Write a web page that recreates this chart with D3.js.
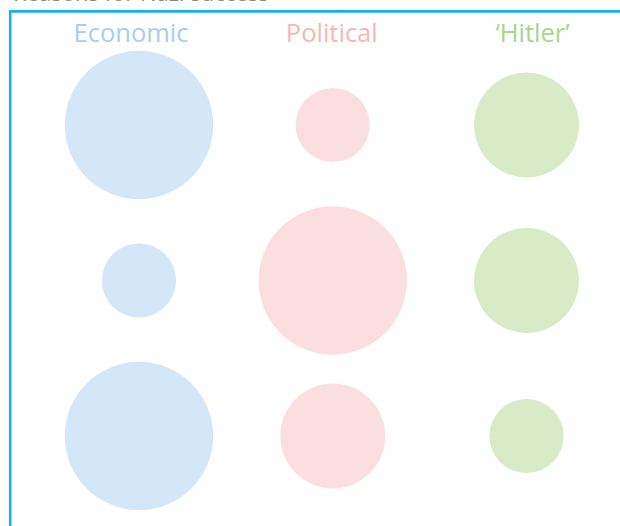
<!DOCTYPE html>
<html>
<head>
<meta charset="utf-8">
<script src="https://cdn.jsdelivr.net/npm/d3@7"></script>
<style>
  body { margin: 0; background: #fff; }
  svg { display: block; }
</style>
</head>
<body>
<svg width="620" height="526"></svg>
<script>
// categories (columns) and rows of the bubble grid
var categories = ["Economic", "Political", "\u2018Hitler\u2019"];
var rows = ["row1", "row2", "row3"];
// relative weight of each bubble (area), one array per category
var economic = [4, 1, 4];
var political = [1, 4, 2];
var hitler = [2, 2, 1];
var colours = ["#d5e6f6", "#fbdfe0", "#d9eac6"];
var labelColours = ["#a9cdee", "#f8b7b7", "#a9d48e"];

var series = [economic, political, hitler];

var svg = d3.select("svg"),
    width = +svg.attr("width"),
    height = +svg.attr("height");

// frame
svg.append("path")
    .attr("d", "M10.2,526 V11.4 H620")
    .attr("fill", "none")
    .attr("stroke", "#12b0ec")
    .attr("stroke-width", 2.6);

// title, mostly cropped off at the top
svg.append("text")
    .attr("x", 13)
    .attr("y", 0.6)
    .attr("fill", "#8a8a8a")
    .style("font-family", "'Open Sans', sans-serif")
    .style("font-size", "22px")
    .text("Reasons for Nazi success");

var x = d3.scalePoint().domain(categories).range([139, 526.5]),
    xLabel = d3.scalePoint().domain(categories).range([131, 532.5]),
    y = d3.scalePoint().domain(rows).range([125, 436]),
    r = d3.scaleSqrt().domain([0, 1]).range([0, 37.1]);

svg.selectAll(".label")
    .data(categories)
    .enter().append("text")
    .attr("class", "label")
    .attr("x", function (d) { return xLabel(d); })
    .attr("y", 41.5)
    .attr("text-anchor", "middle")
    .attr("fill", function (d, i) { return labelColours[i]; })
    .style("font-family", "'Open Sans', sans-serif")
    .style("font-size", "25.5px")
    .text(function (d) { return d; });

var cells = [];
series.forEach(function (vals, i) {
    vals.forEach(function (v, j) {
        cells.push({ cat: categories[i], row: rows[j], value: v, colour: colours[i] });
    });
});

svg.selectAll(".bubble")
    .data(cells)
    .enter().append("circle")
    .attr("class", "bubble")
    .attr("cx", function (d) { return x(d.cat); })
    .attr("cy", function (d) { return y(d.row); })
    .attr("r", function (d) { return r(d.value); })
    .attr("fill", function (d) { return d.colour; });
</script>
</body>
</html>
